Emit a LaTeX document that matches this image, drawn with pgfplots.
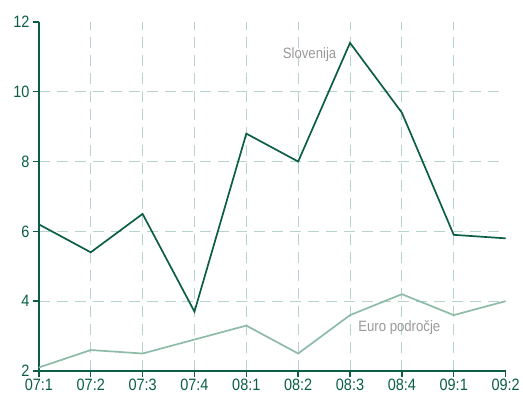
\documentclass[border=0pt]{standalone}
\usepackage{pgfplots}
\pgfplotsset{compat=1.18}
\usepackage{fontspec}
\setmainfont{Liberation Sans}[FakeStretch=0.88]
\definecolor{dkgreen}{HTML}{0B5E45}
\definecolor{ltgreen}{HTML}{8DBBA7}
\definecolor{gridc}{HTML}{B5D5C9}
\definecolor{lblgray}{HTML}{999999}
\begin{document}
\begin{tikzpicture}
\begin{axis}[
  scale only axis, width=468pt, height=350pt,
  xmin=0, xmax=9, ymin=2, ymax=12,
  axis x line*=bottom, axis y line*=left,
  axis line style={dkgreen, line width=1.4pt, -},
  xtick={0,...,8}, xticklabels={07:1,07:2,07:3,07:4,08:1,08:2,08:3,08:4,09:1},
  extra x ticks={9}, extra x tick labels={09:2},
  ytick={2,4,...,10}, extra y ticks={12},
  extra tick style={grid=none},
  tick align=outside, major tick length=6pt,
  tick style={dkgreen, line width=1.4pt},
  ticklabel style={font=\fontsize{16.5}{17}\selectfont, text=dkgreen},
  xticklabel style={yshift=1pt},
  /pgf/number format/assume math mode=true,
  grid=major, grid style={gridc, dash pattern=on 11pt off 7pt, line width=1pt},
  clip=false,
]
\addplot[dkgreen, line width=1.7pt] coordinates {
  (0,6.2) (1,5.4) (2,6.5) (3,3.7) (4,8.8) (5,8.0) (6,11.4) (7,9.4) (8,5.9) (9,5.8)};
\addplot[ltgreen, line width=1.7pt] coordinates {
  (0,2.1) (1,2.6) (2,2.5) (3,2.9) (4,3.3) (5,2.5) (6,3.6) (7,4.2) (8,3.6) (9,4.0)};
\node[text=lblgray, font=\fontsize{15}{16}\selectfont] at (axis cs:5.22,11.05) {Slovenija};
\node[text=lblgray, font=\fontsize{15}{16}\selectfont] at (axis cs:6.95,3.25) {Euro področje};
\path (rel axis cs:0,0) ++(-39pt,-29pt) (rel axis cs:1,1) ++(16pt,22pt);
\end{axis}
\end{tikzpicture}
\end{document}
